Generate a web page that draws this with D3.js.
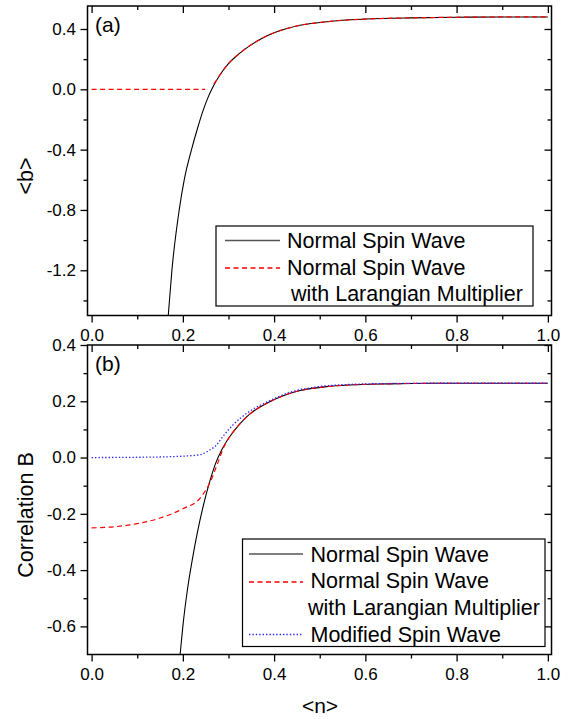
<!DOCTYPE html>
<html>
<head>
<meta charset="utf-8">
<script src="https://cdn.jsdelivr.net/npm/d3@7"></script>
<style>
  body { margin: 0; background: #fff; }
  svg { display: block; font-family: "Liberation Sans", Arial, sans-serif; }
</style>
</head>
<body>
<svg id="chart" width="574" height="719"></svg>
<script>
// ---- data ----
// panel (a): <b> vs <n>
const nA_normal = [0.168, 0.176, 0.192, 0.203, 0.219, 0.233, 0.245, 0.255, 0.265, 0.28, 0.30, 0.325, 0.347, 0.375, 0.40, 0.43, 0.457, 0.50, 0.55, 0.60, 0.70, 0.80, 0.90, 1.00];
const bA_normal = [-1.50, -1.20, -0.80, -0.60, -0.40, -0.25, -0.135, -0.055, 0.01, 0.09, 0.17, 0.24, 0.29, 0.34, 0.375, 0.405, 0.425, 0.443, 0.458, 0.466, 0.474, 0.478, 0.48, 0.48];
const nA_lagr = [0.00, 0.05, 0.10, 0.15, 0.20, 0.249, 0.258, 0.268, 0.28, 0.30, 0.325, 0.347, 0.375, 0.40, 0.43, 0.457, 0.50, 0.55, 0.60, 0.70, 0.80, 0.90, 1.00];
const bA_lagr = [0, 0, 0, 0, 0, 0, null, 0.035, 0.09, 0.17, 0.24, 0.29, 0.34, 0.375, 0.405, 0.425, 0.443, 0.458, 0.466, 0.474, 0.478, 0.48, 0.48];

// panel (b): correlation B vs <n>
const nB_normal = [0.194, 0.200, 0.210, 0.221, 0.232, 0.245, 0.259, 0.272, 0.285, 0.303, 0.325, 0.347, 0.384, 0.42, 0.457, 0.515, 0.566, 0.65, 0.75, 0.85, 1.00];
const cB_normal = [-0.70, -0.60, -0.47, -0.36, -0.265, -0.17, -0.085, -0.02, 0.027, 0.075, 0.12, 0.155, 0.193, 0.22, 0.238, 0.252, 0.258, 0.262, 0.264, 0.264, 0.264];
const nB_lagr = [0.00, 0.05, 0.10, 0.15, 0.20, 0.238, 0.259, 0.274, 0.292, 0.303, 0.325, 0.347, 0.384, 0.42, 0.457, 0.515, 0.566, 0.65, 0.75, 0.85, 1.00];
const cB_lagr = [-0.25, -0.246, -0.235, -0.215, -0.182, -0.144, -0.09, -0.03, 0.045, 0.075, 0.12, 0.155, 0.193, 0.22, 0.238, 0.252, 0.258, 0.262, 0.264, 0.264, 0.264];
const nB_mod = [0.00, 0.05, 0.10, 0.15, 0.20, 0.238, 0.259, 0.274, 0.285, 0.31, 0.347, 0.384, 0.435, 0.493, 0.566, 0.65, 0.75, 0.85, 1.00];
const cB_mod = [0, 0.0003, 0.001, 0.002, 0.005, 0.01, 0.027, 0.045, 0.069, 0.116, 0.165, 0.197, 0.232, 0.251, 0.26, 0.263, 0.264, 0.264, 0.264];

// ticks
const xMajor = [0, 0.2, 0.4, 0.6, 0.8, 1.0];
const xMinor = [0.1, 0.3, 0.5, 0.7, 0.9];
const yMajorA = [0.4, 0.0, -0.4, -0.8, -1.2];
const yMinorA = [0.2, -0.2, -0.6, -1.0, -1.4];
const yMajorB = [0.4, 0.2, 0.0, -0.2, -0.4, -0.6];
const yMinorB = [0.3, 0.1, -0.1, -0.3, -0.5];

const legendA = ["Normal Spin Wave", "Normal Spin Wave", " with Larangian Multiplier"];
const legendB = ["Normal Spin Wave", "Normal Spin Wave", "with Larangian Multiplier", "Modified Spin Wave"];

const svg = d3.select("#chart");
const left = 87.5, right = 551.5;

const x = d3.scaleLinear().domain([-0.009, 1.008]).range([left, right]);

const styles = {
  normal: { stroke: "#000", width: 1.1, dash: null },
  lagr: { stroke: "#ff0000", width: 1.2, dash: "5,3.5" },
  mod: { stroke: "#2a2aff", width: 1.3, dash: "1.4,2" }
};

function zip(xs, ys) {
  return xs.map((d, i) => ({ n: d, v: ys[i] }));
}

function drawPanel(cfg) {
  const y = d3.scaleLinear().domain(cfg.yDomain).range([cfg.bottom, cfg.top]);
  const g = svg.append("g");

  const clipId = "clip-" + cfg.name;
  svg.append("clipPath").attr("id", clipId)
    .append("rect")
    .attr("x", left).attr("y", cfg.top)
    .attr("width", right - left).attr("height", cfg.bottom - cfg.top);

  // axes: labelled ticks outward on bottom/left, inward ticks on top/right
  const tickStyle = sel => {
    sel.select(".domain").remove();
    sel.selectAll("line").attr("stroke", "#000").attr("stroke-width", 1.3);
    sel.selectAll("text").attr("fill", "#000").attr("font-size", 17)
      .attr("font-family", "Liberation Sans, Arial, sans-serif");
  };

  g.append("g").attr("transform", `translate(0,${cfg.bottom})`)
    .call(d3.axisBottom(x).tickValues(xMajor).tickFormat(d3.format(".1f")).tickSize(7).tickPadding(6)).call(tickStyle);
  g.append("g").attr("transform", `translate(0,${cfg.bottom})`)
    .call(d3.axisBottom(x).tickValues(xMinor).tickFormat("").tickSize(4)).call(tickStyle);
  g.append("g").attr("transform", `translate(0,${cfg.top})`)
    .call(d3.axisTop(x).tickValues(xMajor).tickFormat("").tickSize(-7)).call(tickStyle);
  g.append("g").attr("transform", `translate(0,${cfg.top})`)
    .call(d3.axisTop(x).tickValues(xMinor).tickFormat("").tickSize(-4)).call(tickStyle);

  g.append("g").attr("transform", `translate(${left},0)`)
    .call(d3.axisLeft(y).tickValues(cfg.yMajor).tickFormat(d3.format(".1f")).tickSize(7).tickPadding(4.5)).call(tickStyle);
  g.append("g").attr("transform", `translate(${left},0)`)
    .call(d3.axisLeft(y).tickValues(cfg.yMinor).tickFormat("").tickSize(4)).call(tickStyle);
  g.append("g").attr("transform", `translate(${right},0)`)
    .call(d3.axisRight(y).tickValues(cfg.yMajor).tickFormat("").tickSize(-7)).call(tickStyle);
  g.append("g").attr("transform", `translate(${right},0)`)
    .call(d3.axisRight(y).tickValues(cfg.yMinor).tickFormat("").tickSize(-4)).call(tickStyle);

  // minus signs as plain hyphen like the original
  g.selectAll("text").text(function() { return d3.select(this).text().replace("\u2212", "-"); });

  // curves
  const line = d3.line()
    .defined(d => d.v !== null)
    .x(d => x(d.n)).y(d => y(d.v))
    .curve(d3.curveMonotoneX);

  const curves = g.append("g").attr("clip-path", `url(#${clipId})`);
  cfg.series.forEach(s => {
    const st = styles[s.key];
    curves.append("path")
      .datum(zip(s.n, s.v))
      .attr("d", line)
      .attr("fill", "none")
      .attr("stroke", st.stroke)
      .attr("stroke-width", st.width)
      .attr("stroke-dasharray", st.dash);
  });

  // frame
  g.append("rect")
    .attr("x", left).attr("y", cfg.top)
    .attr("width", right - left).attr("height", cfg.bottom - cfg.top)
    .attr("fill", "none").attr("stroke", "#000").attr("stroke-width", 1.5);

  // panel tag
  g.append("text").attr("x", 95).attr("y", cfg.top + 26)
    .attr("font-size", 21).text(cfg.tag);

  // y title
  g.append("text")
    .attr("transform", `translate(33,${cfg.yTitleY}) rotate(-90)`)
    .attr("text-anchor", "middle").attr("font-size", 21.5)
    .text(cfg.yTitle);

  // legend
  const L = cfg.legend;
  const lg = g.append("g");
  lg.append("rect")
    .attr("x", L.x0).attr("y", L.y0).attr("width", L.x1 - L.x0).attr("height", L.y1 - L.y0)
    .attr("fill", "#fff").attr("stroke", "#000").attr("stroke-width", 1.2);
  L.rows.forEach(r => {
    if (r.key) {
      const st = styles[r.key];
      lg.append("line")
        .attr("x1", L.sx0).attr("x2", L.sx1).attr("y1", r.ly).attr("y2", r.ly)
        .attr("stroke", r.key === "normal" ? "#555" : st.stroke)
        .attr("stroke-width", r.key === "normal" ? 1.6 : 1.4)
        .attr("stroke-dasharray", st.dash);
    }
    lg.append("text").attr("x", r.tx).attr("y", r.ty)
      .attr("font-size", 21.5).attr("xml:space", "preserve")
      .style("white-space", "pre")
      .text(r.text);
  });
}

drawPanel({
  name: "a", tag: "(a)", top: 6, bottom: 315.5,
  yDomain: [-1.5, 0.5526], yMajor: yMajorA, yMinor: yMinorA,
  yTitle: "<b>", yTitleY: 176,
  series: [
    { key: "normal", n: nA_normal, v: bA_normal },
    { key: "lagr", n: nA_lagr, v: bA_lagr }
  ],
  legend: {
    x0: 216, y0: 226, x1: 533, y1: 306, sx0: 225, sx1: 280,
    rows: [
      { key: "normal", ly: 240.5, tx: 287, ty: 248, text: legendA[0] },
      { key: "lagr", ly: 268, tx: 287, ty: 274.5, text: legendA[1] },
      { key: null, tx: 285, ty: 300.5, text: legendA[2] }
    ]
  }
});

drawPanel({
  name: "b", tag: "(b)", top: 345, bottom: 654.5,
  yDomain: [-0.7, 0.4], yMajor: yMajorB, yMinor: yMinorB,
  yTitle: "Correlation B", yTitleY: 515,
  series: [
    { key: "normal", n: nB_normal, v: cB_normal },
    { key: "lagr", n: nB_lagr, v: cB_lagr },
    { key: "mod", n: nB_mod, v: cB_mod }
  ],
  legend: {
    x0: 242.5, y0: 539, x1: 545, y1: 646.5, sx0: 249, sx1: 303,
    rows: [
      { key: "normal", ly: 554, tx: 310.5, ty: 561.5, text: legendB[0] },
      { key: "lagr", ly: 582, tx: 310.5, ty: 588, text: legendB[1] },
      { key: null, tx: 308, ty: 614.5, text: legendB[2] },
      { key: "mod", ly: 634.5, tx: 310.5, ty: 641.5, text: legendB[3] }
    ]
  }
});

// shared x title
svg.append("text").attr("x", 320).attr("y", 713)
  .attr("text-anchor", "middle").attr("font-size", 21)
  .text("<n>");
</script>
</body>
</html>
